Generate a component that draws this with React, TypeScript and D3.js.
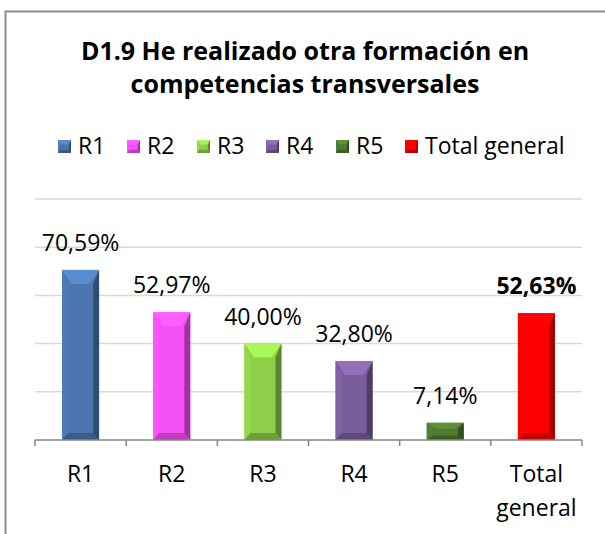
import React from "react";
import * as d3 from "d3";

const categories = ["R1", "R2", "R3", "R4", "R5", "Total general"];
const values = [70.59, 52.97, 40.0, 32.8, 7.14, 52.63];
const labels = ["70,59%", "52,97%", "40,00%", "32,80%", "7,14%", "52,63%"];
const colors = ["#4a76ad", "#f44ff4", "#8fce4a", "#7a5e9c", "#4e7a31", "#ff0000"];
const yTicks = [0, 20, 40, 60, 80, 100];
const titleLines = ["D1.9 He realizado otra formación en", "competencias transversales"];

const W = 605;
const H = 534;
const FONT = "'Open Sans', sans-serif";

function BevelBar({ x, y, w, h, color }: { x: number; y: number; w: number; h: number; color: string }) {
  const c = d3.color(color)!;
  const light = c.brighter(0.5).toString();
  const lightSide = c.brighter(0.12).toString();
  const dark = c.darker(1.2).toString();
  const darkBottom = c.darker(0.7).toString();
  const b = Math.min(6, w * 0.16);
  const bt = Math.min(14, h * 0.35);
  const bb = Math.min(7, h * 0.25);
  const pts = (arr: number[][]) => arr.map((p) => p.join(",")).join(" ");
  return (
    <g>
      <rect x={x} y={y} width={w} height={h} fill={color} />
      <polygon points={pts([[x, y], [x + b, y + bt], [x + b, y + h - bb], [x, y + h]])} fill={lightSide} />
      <polygon points={pts([[x + w, y], [x + w - b, y + bt], [x + w - b, y + h - bb], [x + w, y + h]])} fill={dark} />
      <polygon points={pts([[x, y], [x + w, y], [x + w - b * 1.6, y + bt], [x + b * 1.6, y + bt]])} fill={light} />
      <polygon points={pts([[x, y + h], [x + w, y + h], [x + w - b, y + h - bb], [x + b, y + h - bb]])} fill={darkBottom} />
    </g>
  );
}

export default function App() {
  const x0 = 35;
  const x1 = 582;
  const yBase = 440;
  const yTop = 199;
  const x = d3.scaleBand<string>().domain(categories).range([x0, x1]).paddingInner(0).paddingOuter(0);
  const y = d3.scaleLinear().domain([0, 100]).range([yBase, yTop]);
  const bw = 37;

  const legendX = [58, 127, 197, 266, 336, 405];

  return (
    <svg width={W} height={H} style={{ position: "absolute", left: 0, top: 0, background: "#fff" }} fontFamily={FONT}>
      <rect x={0} y={0} width={W} height={H} fill="#fff" />
      <rect x={5.5} y={11.5} width={700} height={600} fill="none" stroke="#8c8c8c" strokeWidth={2} />
      {titleLines.map((t, i) => (
        <text key={i} x={305} y={60 + i * 33} textAnchor="middle" fontSize={25} fontWeight="bold" fill="#000">
          {t}
        </text>
      ))}
      {categories.map((c, i) => (
        <g key={c}>
          <BevelBar x={legendX[i]} y={140} w={13} h={13} color={colors[i]} />
          <text x={legendX[i] + 20} y={154} fontSize={23} fill="#000">
            {c}
          </text>
        </g>
      ))}
      {yTicks.slice(1).map((t) => (
        <line key={t} x1={x0} x2={x1} y1={y(t)} y2={y(t)} stroke="#d9d9d9" strokeWidth={1.5} />
      ))}
      {values.map((v, i) => {
        const cx = x(categories[i])! + x.bandwidth() / 2;
        const top = y(v);
        return (
          <g key={i}>
            <BevelBar x={cx - bw / 2} y={top} w={bw} h={yBase - top} color={colors[i]} />
            <text
              x={cx}
              y={top - 19}
              textAnchor="middle"
              fontSize={23}
              fontWeight={i === categories.length - 1 ? "bold" : "normal"}
              fill="#000"
            >
              {labels[i]}
            </text>
          </g>
        );
      })}
      <line x1={x0} x2={x1} y1={yBase} y2={yBase} stroke="#868686" strokeWidth={1.5} />
      {d3.range(categories.length + 1).map((i) => {
        const tx = x0 + i * x.bandwidth();
        return <line key={i} x1={tx} x2={tx} y1={yBase} y2={yBase + 6} stroke="#868686" strokeWidth={1.5} />;
      })}
      {categories.map((c) => {
        const cx = x(c)! + x.bandwidth() / 2;
        const words = c === "Total general" ? ["Total", "general"] : [c];
        return (
          <text key={c} x={cx} y={482} textAnchor="middle" fontSize={23} fill="#000">
            {words.map((w, j) => (
              <tspan key={j} x={cx} dy={j === 0 ? 0 : 34}>
                {w}
              </tspan>
            ))}
          </text>
        );
      })}
    </svg>
  );
}
